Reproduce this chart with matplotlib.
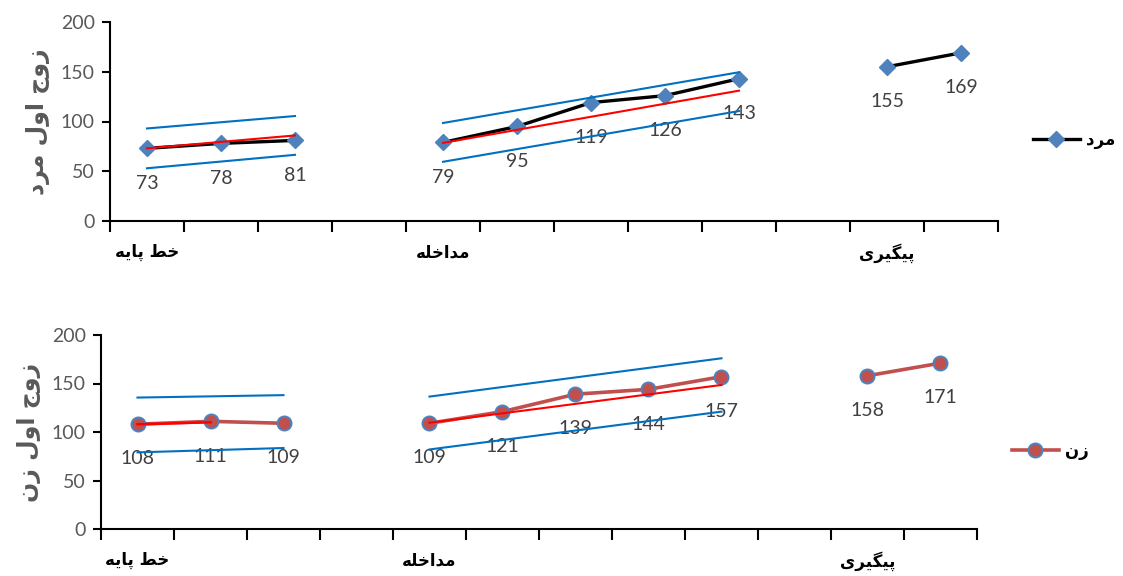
import numpy as np
import matplotlib
matplotlib.use("Agg")
import matplotlib.pyplot as plt
from matplotlib.lines import Line2D

# ---------------- data ----------------
categories = ["خط پایه", "", "", "", "مداخله", "", "", "", "", "", "پیگیری", ""]
men_values = [73, 78, 81, np.nan, 79, 95, 119, 126, 143, np.nan, 155, 169]
women_values = [108, 111, 109, np.nan, 109, 121, 139, 144, 157, np.nan, 158, 171]

# trend / band lines (start, end values) over category ranges
men_base_x = [0, 2]
men_base_trend = [73, 86]
men_base_upper = [93, 105.5]
men_base_lower = [53, 66.5]
men_int_x = [4, 8]
men_int_trend = [78.5, 131]
men_int_upper = [98.5, 149.5]
men_int_lower = [59.5, 110.5]

women_base_trend_x = [0, 1]
women_base_trend = [108, 110]
women_base_x = [0, 2]
women_base_upper = [135.5, 138]
women_base_lower = [79, 83.5]
women_int_x = [4, 8]
women_int_trend = [109.5, 148.5]
women_int_upper = [136.5, 176]
women_int_lower = [82, 121]

y_ticks = [0, 50, 100, 150, 200]
ylabel_men = "زوج اول مرد"
ylabel_women = "زوج اول زن"
legend_men = "مرد"
legend_women = "زن"

# ---------------- simple Arabic/Persian shaping ----------------
FORMS = {  # iso, fin, ini, med ; None for ini/med => right-joining only
    'ا': ('\uFE8D', '\uFE8E', None, None),
    'د': ('\uFEA9', '\uFEAA', None, None),
    'ر': ('\uFEAD', '\uFEAE', None, None),
    'ز': ('\uFEAF', '\uFEB0', None, None),
    'و': ('\uFEED', '\uFEEE', None, None),
    'ج': ('\uFE9D', '\uFE9E', '\uFE9F', '\uFEA0'),
    'خ': ('\uFEA5', '\uFEA6', '\uFEA7', '\uFEA8'),
    'ط': ('\uFEC1', '\uFEC2', '\uFEC3', '\uFEC4'),
    'ل': ('\uFEDD', '\uFEDE', '\uFEDF', '\uFEE0'),
    'م': ('\uFEE1', '\uFEE2', '\uFEE3', '\uFEE4'),
    'ن': ('\uFEE5', '\uFEE6', '\uFEE7', '\uFEE8'),
    'ه': ('\uFEE9', '\uFEEA', '\uFEEB', '\uFEEC'),
    'پ': ('\uFB56', '\uFB57', '\uFB58', '\uFB59'),
    'گ': ('\uFB92', '\uFB93', '\uFB94', '\uFB95'),
    'ی': ('\uFEEF', '\uFEF0', '\uFEF3', '\uFEF4'),
}


def shape(text):
    out = []
    n = len(text)
    for i, ch in enumerate(text):
        if ch not in FORMS:
            out.append(ch)
            continue
        prev = text[i - 1] if i > 0 else None
        nxt = text[i + 1] if i < n - 1 else None
        joins_prev = prev in FORMS and FORMS[prev][2] is not None
        joins_next = nxt in FORMS and FORMS[ch][2] is not None
        iso, fin, ini, med = FORMS[ch]
        if joins_prev and joins_next:
            out.append(med)
        elif joins_prev:
            out.append(fin)
        elif joins_next:
            out.append(ini)
        else:
            out.append(iso)
    return ''.join(reversed(out))


plt.rcParams['font.family'] = ['DejaVu Sans']
NUMFONT = ['Lato', 'DejaVu Sans']

fig = plt.figure(figsize=(11.23, 5.76), dpi=100)
ax1 = fig.add_axes([110 / 1123, 1 - 221 / 576, 888 / 1123, 199 / 576])
ax2 = fig.add_axes([101 / 1123, 1 - 529 / 576, 876 / 1123, 194 / 576])

BLUE = '#0070C0'
RED = '#FF0000'
x = np.arange(len(categories))


def style_axes(ax, ylabel):
    ax.set_xlim(-0.5, len(categories) - 0.5)
    ax.set_ylim(0, 200)
    ax.set_yticks(y_ticks)
    ax.set_yticklabels([str(v) for v in y_ticks], fontfamily=NUMFONT, fontsize=14, color='#595959')
    ax.spines['top'].set_visible(False)
    ax.spines['right'].set_visible(False)
    ax.spines['left'].set_linewidth(1.5)
    ax.spines['bottom'].set_linewidth(1.5)
    ax.tick_params(axis='y', direction='out', length=6, width=1.5, pad=5)
    # ticks at category boundaries
    ax.set_xticks(np.arange(len(categories) + 1) - 0.5)
    ax.set_xticklabels([])
    ax.tick_params(axis='x', direction='out', length=8, width=1.5)
    ax.set_xticks(x, minor=True)
    ax.set_xticklabels([shape(c) for c in categories], minor=True,
                       fontsize=12, fontweight='bold', color='black')
    ax.tick_params(axis='x', which='minor', length=0, pad=16)
    ax.set_ylabel(shape(ylabel), fontsize=17, fontweight='bold', color='#595959', labelpad=8)


def annotate(ax, vals):
    for xi, v in zip(x, vals):
        if np.isnan(v):
            continue
        ax.annotate(str(int(v)), (xi, v), xytext=(0, -25), textcoords='offset points',
                    ha='center', va='center', fontsize=14, color='#404040', fontfamily=NUMFONT)


# ---- top panel (men)
style_axes(ax1, ylabel_men)
ax1.plot(x, men_values, color='black', lw=2.4, marker='D', ms=8.5,
         mfc='#4F81BD', mec='#4F81BD', zorder=3)
ax1.plot(men_base_x, men_base_trend, color=RED, lw=1.5, zorder=4)
ax1.plot(men_base_x, men_base_upper, color=BLUE, lw=1.5, zorder=4)
ax1.plot(men_base_x, men_base_lower, color=BLUE, lw=1.5, zorder=4)
ax1.plot(men_int_x, men_int_trend, color=RED, lw=1.5, zorder=4)
ax1.plot(men_int_x, men_int_upper, color=BLUE, lw=1.5, zorder=4)
ax1.plot(men_int_x, men_int_lower, color=BLUE, lw=1.5, zorder=4)
annotate(ax1, men_values)

# ---- bottom panel (women)
style_axes(ax2, ylabel_women)
ax2.plot(x, women_values, color='#C0504D', lw=2.6, marker='o', ms=10,
         mfc='#C0504D', mec='#4F81BD', mew=1.5, zorder=3)
ax2.plot(women_base_trend_x, women_base_trend, color=RED, lw=1.8, zorder=4)
ax2.plot(women_base_x, women_base_upper, color=BLUE, lw=1.5, zorder=4)
ax2.plot(women_base_x, women_base_lower, color=BLUE, lw=1.5, zorder=4)
ax2.plot(women_int_x, women_int_trend, color=RED, lw=1.5, zorder=4)
ax2.plot(women_int_x, women_int_upper, color=BLUE, lw=1.5, zorder=4)
ax2.plot(women_int_x, women_int_lower, color=BLUE, lw=1.5, zorder=4)
annotate(ax2, women_values)

# ---- legends
leg_kw = dict(loc='center left', frameon=False, prop={'size': 12, 'weight': 'bold'},
              handlelength=2.8, handletextpad=0.4, borderpad=0, borderaxespad=0)
h_men = Line2D([], [], color='black', lw=2.4, marker='D', ms=8.5, mfc='#4F81BD', mec='#4F81BD')
fig.legend([h_men], [shape(legend_men)], bbox_to_anchor=(1033 / 1123, 1 - 140 / 576), **leg_kw)
h_women = Line2D([], [], color='#C0504D', lw=2.6, marker='o', ms=10, mfc='#C0504D', mec='#4F81BD', mew=1.5)
fig.legend([h_women], [shape(legend_women)], bbox_to_anchor=(1012 / 1123, 1 - 451 / 576), **leg_kw)

fig.savefig('out.png', dpi=100)
